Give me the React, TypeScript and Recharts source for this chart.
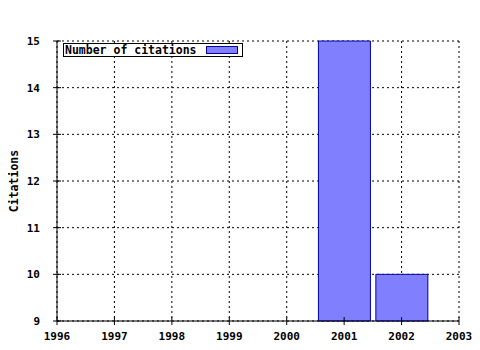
import { Bar, BarChart, CartesianGrid, XAxis, YAxis } from "recharts";

const years = [2001, 2002];
const citations = [15, 10];
const yearTicks = [1996, 1997, 1998, 1999, 2000, 2001, 2002, 2003];
const minorYearTicks = [
  1996.2, 1996.4, 1996.6, 1996.8, 1997.2, 1997.4, 1997.6, 1997.8, 1998.2, 1998.4,
  1998.6, 1998.8, 1999.2, 1999.4, 1999.6, 1999.8, 2000.2, 2000.4, 2000.6, 2000.8,
  2001.2, 2001.4, 2001.6, 2001.8, 2002.2, 2002.4, 2002.6, 2002.8,
];
const citationTicks = [9, 10, 11, 12, 13, 14, 15];

const data = years.map((year, i) => ({ year, citations: citations[i] }));

const FONT = "'DejaVu Sans Mono', monospace";

const BottomTick = (props: any) => {
  const { x, y, payload } = props;
  return (
    <g>
      <line x1={x} x2={x} y1={y - 4} y2={y + 4} stroke="#000" />
      <text x={x} y={y + 19} textAnchor="middle" fontFamily={FONT} fontWeight="bold" fontSize={11} fill="#000">
        {payload.value}
      </text>
    </g>
  );
};

const TopTick = (props: any) => {
  const { x, y } = props;
  return <line x1={x} x2={x} y1={y - 4} y2={y + 4} stroke="#000" />;
};

const MinorBottomTick = (props: any) => {
  const { x, y } = props;
  return <line x1={x} x2={x} y1={y - 3} y2={y} stroke="#000" />;
};

const MinorTopTick = (props: any) => {
  const { x, y } = props;
  return <line x1={x} x2={x} y1={y} y2={y + 3} stroke="#000" />;
};

const LeftTick = (props: any) => {
  const { x, y, payload } = props;
  return (
    <g>
      <line x1={x - 4} x2={x + 4} y1={y} y2={y} stroke="#000" />
      <text x={x - 17} y={y + 4} textAnchor="end" fontFamily={FONT} fontWeight="bold" fontSize={11} fill="#000">
        {payload.value}
      </text>
    </g>
  );
};

const RightTick = (props: any) => {
  const { x, y } = props;
  return <line x1={x - 4} x2={x + 4} y1={y} y2={y} stroke="#000" />;
};

const LegendBox = () => (
  <div
    style={{
      position: "absolute",
      left: 63,
      top: 43,
      display: "flex",
      alignItems: "center",
      border: "1px solid #000",
      background: "#fff",
      height: 14,
      width: 180,
      fontFamily: FONT,
      fontWeight: "bold",
      fontSize: 11.5,
      lineHeight: "13px",
      paddingLeft: 1,
      boxSizing: "border-box",
    }}
  >
    <span>Number of citations</span>
    <span
      style={{
        display: "inline-block",
        width: 32,
        height: 8,
        background: "#8080ff",
        border: "1px solid #0000a0",
        marginLeft: 9,
        boxSizing: "border-box",
      }}
    />
  </div>
);

export default function App() {
  return (
    <div style={{ margin: -8, background: "#fff", width: 480, height: 350, position: "relative" }}>
      <BarChart
        width={480}
        height={350}
        data={data}
        margin={{ top: 41, right: 21, left: 0, bottom: 0 }}
        barSize={52}
      >
        <CartesianGrid stroke="#000" strokeDasharray="2 3" />
        <XAxis
          dataKey="year"
          type="number"
          domain={[1996, 2003]}
          ticks={yearTicks}
          interval={0}
          height={29}
          tickSize={0}
          tickMargin={0}
          stroke="#000"
          tick={<BottomTick />}
        />
        <XAxis
          xAxisId="minor"
          dataKey="year"
          type="number"
          domain={[1996, 2003]}
          ticks={minorYearTicks}
          interval={0}
          height={0}
          tickSize={0}
          tickMargin={0}
          axisLine={false}
          tick={<MinorBottomTick />}
        />
        <XAxis
          xAxisId="top"
          orientation="top"
          dataKey="year"
          type="number"
          domain={[1996, 2003]}
          ticks={yearTicks}
          interval={0}
          height={0}
          tickSize={0}
          tickMargin={0}
          stroke="#000"
          tick={<TopTick />}
        />
        <XAxis
          xAxisId="topMinor"
          orientation="top"
          dataKey="year"
          type="number"
          domain={[1996, 2003]}
          ticks={minorYearTicks}
          interval={0}
          height={0}
          tickSize={0}
          tickMargin={0}
          axisLine={false}
          tick={<MinorTopTick />}
        />
        <YAxis
          domain={[9, 15]}
          ticks={citationTicks}
          interval={0}
          width={57}
          tickSize={0}
          tickMargin={0}
          stroke="#000"
          tick={<LeftTick />}
          label={{
            value: "Citations",
            angle: -90,
            position: "insideLeft",
            offset: 14,
            style: { fontFamily: FONT, fontWeight: "bold", fontSize: 11.5, fill: "#000", textAnchor: "middle" },
          }}
        />
        <YAxis
          yAxisId="right"
          orientation="right"
          domain={[9, 15]}
          ticks={citationTicks}
          interval={0}
          width={0}
          tickSize={0}
          tickMargin={0}
          stroke="#000"
          tick={<RightTick />}
        />
        <Bar dataKey="citations" fill="#8080ff" stroke="#0000a0" strokeWidth={1} isAnimationActive={false} />
      </BarChart>
      <LegendBox />
    </div>
  );
}
